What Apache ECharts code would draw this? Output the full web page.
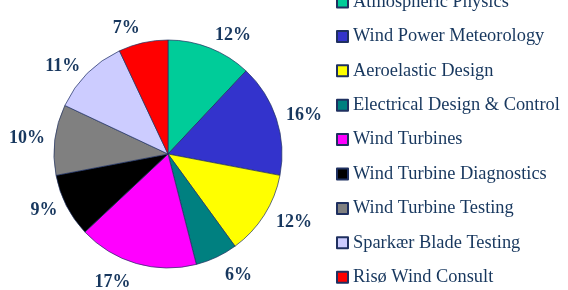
<!DOCTYPE html>
<html><head><meta charset="utf-8">
<script src="https://cdn.jsdelivr.net/npm/echarts@6/dist/echarts.min.js"></script>
<style>html,body{margin:0;padding:0;background:#fff}#c{width:568px;height:290px}</style>
</head><body><div id="c"></div>
<script>
const categories = ["Atmospheric Physics","Wind Power Meteorology","Aeroelastic Design","Electrical Design & Control","Wind Turbines","Wind Turbine Diagnostics","Wind Turbine Testing","Sparkær Blade Testing","Risø Wind Consult"];
const values = [12,16,12,6,17,9,10,11,7];
const colors = ["#00cc99","#3333cc","#ffff00","#008080","#ff00ff","#000000","#808080","#ccccff","#ff0000"];
const navy = "#17375e";
const lineLen = {3:20, 4:20, 8:15, 0:14, 2:14};
const chart = echarts.init(document.getElementById('c'));
chart.setOption({
  animation:false,
  legend:{
    orient:'vertical', left:336, top:-7, padding:0,
    itemWidth:11, itemHeight:11, itemGap:16.4,
    icon:'rect',
    textStyle:{fontFamily:'Liberation Serif', fontSize:18.4, lineHeight:18, color:navy, padding:[0,0,0,0]},
    data: categories
  },
  series:[{
    type:'pie', center:[168,154], radius:114, startAngle:90, clockwise:true,
    avoidLabelOverlap:false,
    itemStyle:{borderColor:'#1f3060', borderWidth:0.7},
    label:{show:true, position:'outside', formatter:'{d}%', overflow:'none', alignTo:'none', edgeDistance:0,
      distanceToLabelLine:0,
      fontFamily:'Liberation Serif', fontWeight:'bold', fontSize:18, color:navy},
    labelLine:{show:false, length:10, length2:0},
    data: categories.map((n,i)=>({name:n, value:values[i], itemStyle:{color:colors[i]},
      labelLine:{length: lineLen[i] !== undefined ? lineLen[i] : 10}}))
  }]
});
</script></body></html>
